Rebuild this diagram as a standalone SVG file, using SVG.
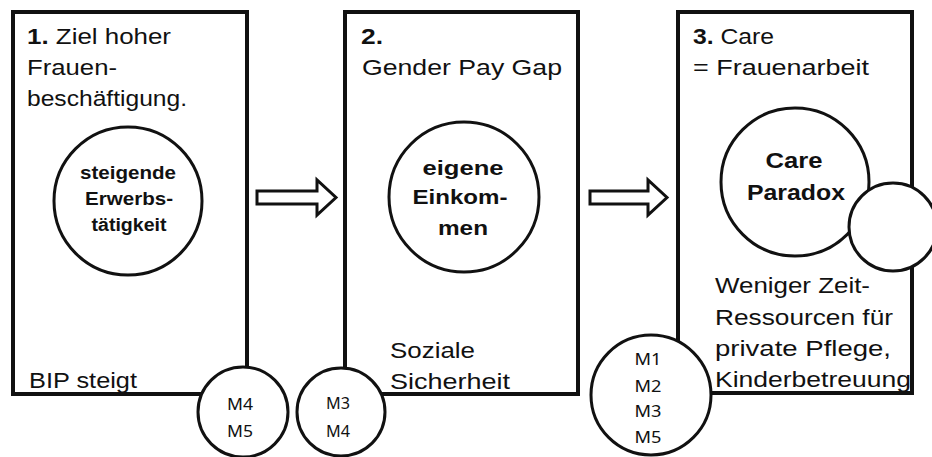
<svg xmlns="http://www.w3.org/2000/svg" width="932" height="457" viewBox="0 0 932 457">
<style>
.box{fill:#fff;stroke:#111;stroke-width:4}
.circ{fill:#fff;stroke:#111;stroke-width:3}
.arrow{fill:#fff;stroke:#111;stroke-width:3;stroke-linejoin:miter}
.t{font-family:"Liberation Sans",Arial,sans-serif;font-size:22px;fill:#111}
.b{font-weight:bold}
.c{font-family:"Liberation Sans",Arial,sans-serif;font-weight:bold;fill:#111;text-anchor:middle}
.m{font-family:"Noto Sans","Open Sans",sans-serif;font-size:16px;fill:#111;text-anchor:middle}
</style>
<rect width="932" height="457" fill="#fff"/>
<g id="step1">
<rect class="box" x="13" y="12" width="234" height="382"/>
<text class="t" x="27" y="44" textLength="144" lengthAdjust="spacingAndGlyphs"><tspan class="b">1.</tspan> Ziel hoher</text>
<text class="t" x="27" y="75" textLength="90" lengthAdjust="spacingAndGlyphs">Frauen-</text>
<text class="t" x="27" y="106" textLength="160" lengthAdjust="spacingAndGlyphs">beschäftigung.</text>
<text class="t" x="29" y="388" textLength="108" lengthAdjust="spacingAndGlyphs">BIP steigt</text>
</g>
<g id="circle1">
<circle class="circ" cx="128" cy="201" r="74"/>
<text class="c" font-size="18" x="128" y="179" textLength="96" lengthAdjust="spacingAndGlyphs">steigende</text>
<text class="c" font-size="18" x="129" y="205" textLength="88" lengthAdjust="spacingAndGlyphs">Erwerbs-</text>
<text class="c" font-size="18" x="129" y="231" textLength="75" lengthAdjust="spacingAndGlyphs">tätigkeit</text>
</g>
<g id="step2">
<rect class="box" x="345" y="12" width="233" height="382"/>
<text class="t b" x="361" y="44" textLength="22" lengthAdjust="spacingAndGlyphs">2.</text>
<text class="t" x="362" y="75" textLength="200" lengthAdjust="spacingAndGlyphs">Gender  Pay Gap</text>
<text class="t" x="390" y="358" textLength="85" lengthAdjust="spacingAndGlyphs">Soziale</text>
<text class="t" x="390" y="389" textLength="120" lengthAdjust="spacingAndGlyphs">Sicherheit</text>
</g>
<g id="circle2">
<circle class="circ" cx="464" cy="197" r="75"/>
<text class="c" font-size="20" x="463" y="175" textLength="81" lengthAdjust="spacingAndGlyphs">eigene</text>
<text class="c" font-size="20" x="460" y="204" textLength="95" lengthAdjust="spacingAndGlyphs">Einkom-</text>
<text class="c" font-size="20" x="463" y="235" textLength="50" lengthAdjust="spacingAndGlyphs">men</text>
</g>
<g id="step3">
<rect class="box" x="678" y="12" width="234" height="381"/>
<text class="t" x="693" y="44" textLength="81" lengthAdjust="spacingAndGlyphs"><tspan class="b">3.</tspan> Care</text>
<text class="t" x="693" y="75" textLength="176" lengthAdjust="spacingAndGlyphs">= Frauenarbeit</text>
<text class="t" x="715" y="293" textLength="155" lengthAdjust="spacingAndGlyphs">Weniger Zeit-</text>
<text class="t" x="715" y="325" textLength="178" lengthAdjust="spacingAndGlyphs">Ressourcen für</text>
<text class="t" x="715" y="356" textLength="176" lengthAdjust="spacingAndGlyphs">private Pflege,</text>
<text class="t" x="715" y="387" textLength="196" lengthAdjust="spacingAndGlyphs">Kinderbetreuung</text>
</g>
<g id="circle3">
<circle class="circ" cx="795" cy="182" r="74"/>
<text class="c" font-size="22" x="794" y="168" textLength="57" lengthAdjust="spacingAndGlyphs">Care</text>
<text class="c" font-size="22" x="796" y="200" textLength="98" lengthAdjust="spacingAndGlyphs">Paradox</text>
</g>
<g id="circle3b">
<circle class="circ" cx="893" cy="227" r="44"/>
</g>
<g id="m45">
<circle class="circ" cx="243" cy="412" r="45"/>
<text class="m" x="240" y="410" textLength="26" lengthAdjust="spacingAndGlyphs">M4</text>
<text class="m" x="240" y="437" textLength="26" lengthAdjust="spacingAndGlyphs">M5</text>
</g>
<g id="m34">
<circle class="circ" cx="341" cy="412" r="44"/>
<text class="m" x="338" y="409" textLength="24" lengthAdjust="spacingAndGlyphs">M3</text>
<text class="m" x="338" y="437" textLength="24" lengthAdjust="spacingAndGlyphs">M4</text>
</g>
<g id="m1235">
<circle class="circ" cx="651" cy="395" r="60"/>
<text class="m" x="648" y="365" textLength="27" lengthAdjust="spacingAndGlyphs">M1</text>
<text class="m" x="648" y="392" textLength="27" lengthAdjust="spacingAndGlyphs">M2</text>
<text class="m" x="648" y="417" textLength="27" lengthAdjust="spacingAndGlyphs">M3</text>
<text class="m" x="648" y="443" textLength="27" lengthAdjust="spacingAndGlyphs">M5</text>
</g>
<g id="connectors">
<path class="arrow" d="M257,191 H317 V180 L336,197.5 L317,215 V204 H257 Z"/>
<path class="arrow" d="M590,191 H648 V180 L667,197.5 L648,215 V204 H590 Z"/>
</g>
</svg>
